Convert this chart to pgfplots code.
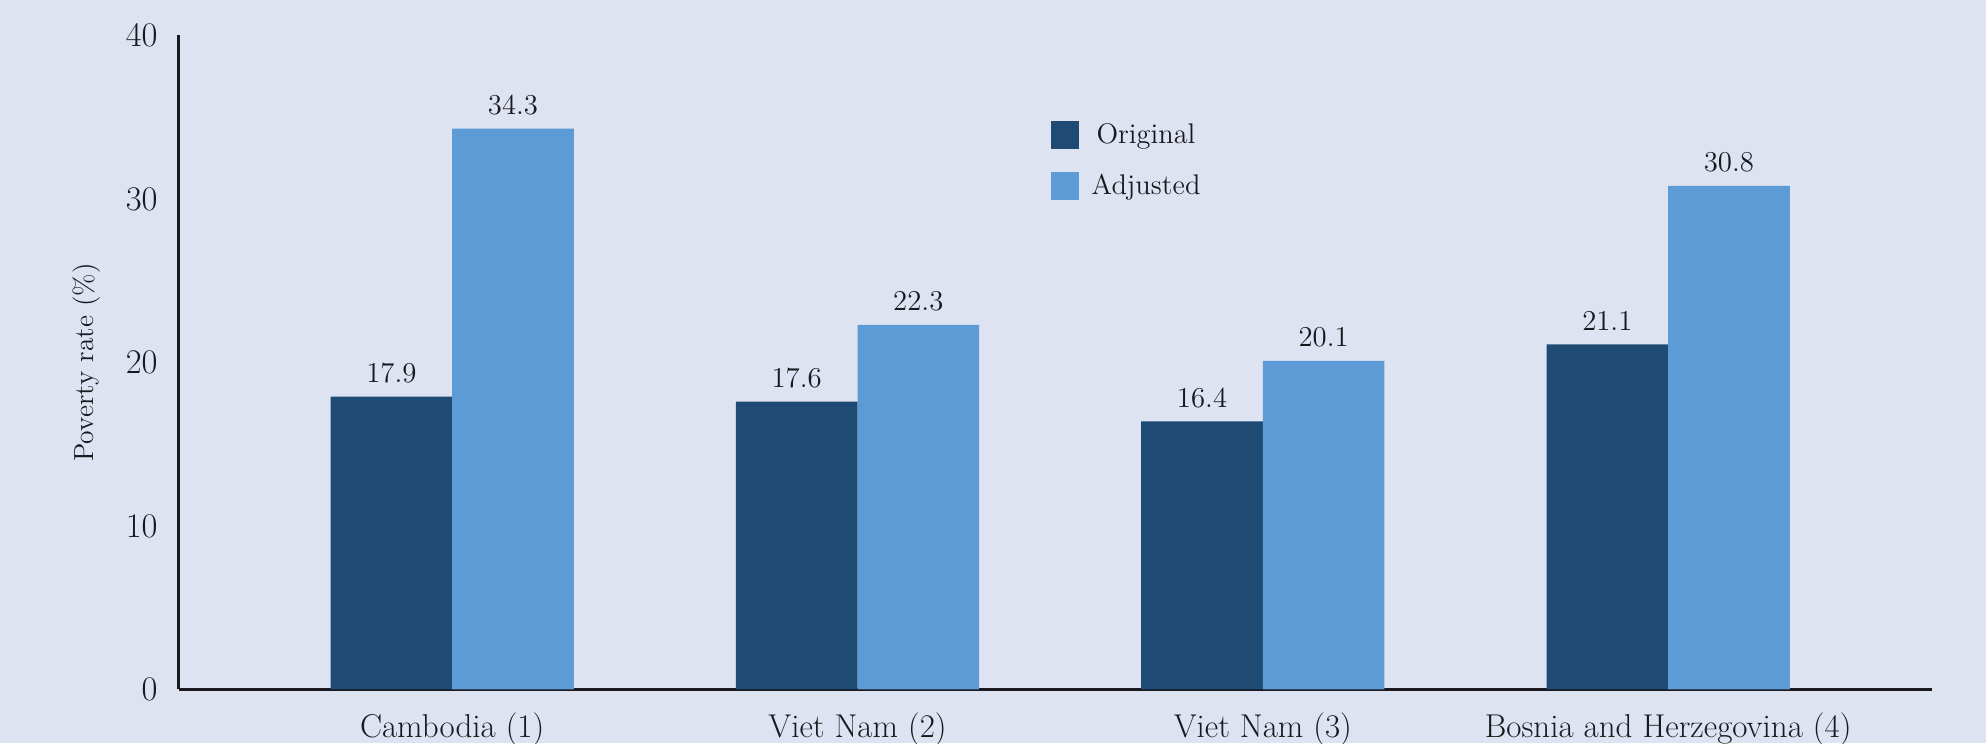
\documentclass[border=0pt]{standalone}
\usepackage{pgfplots}
\pgfplotsset{compat=1.18}
\definecolor{bg}{RGB}{222,227,242}
\definecolor{darkbar}{RGB}{30,74,115}
\definecolor{lightbar}{RGB}{92,155,213}
\definecolor{txt}{RGB}{25,25,30}
\begin{document}
\begin{tikzpicture}
\fill[bg] (-89.3pt,-27pt) rectangle (903.7pt,344.7pt);
\begin{axis}[
  scale only axis, width=876.5pt, height=327pt,
  xmin=-0.675, xmax=3.65, ymin=0, ymax=40,
  axis lines=left,
  axis line style={line width=1.5pt, -, txt},
  xtick={0,1,2,3},
  xticklabels={Cambodia (1), Viet Nam (2), Viet Nam (3), Bosnia and Herzegovina (4)},
  ytick={0,10,20,30,40},
  major tick length=0pt,
  xticklabel style={font=\fontsize{16.5}{19}\selectfont, text=txt, anchor=base, yshift=-24pt},
  yticklabel style={font=\fontsize{18}{21}\selectfont, text=txt, xshift=-7pt},
  ylabel={Poverty rate (\%)},
  ylabel style={font=\fontsize{13.8}{16}\selectfont, text=txt, at={(axis description cs:-0.0525,0.5)}, anchor=center},
  ybar=0pt,
  bar width=0.3,
  nodes near coords,
  every node near coord/.append style={font=\fontsize{15.5}{18}\selectfont, text=txt, yshift=3.5pt},
  legend style={at={(axis cs:1.4775,34.9)}, anchor=north west, draw=none, fill=none,
    font=\fontsize{14.2}{17}\selectfont, text=txt, row sep=10pt, inner sep=0pt},
  legend image code/.code={\fill[#1] (0pt,-7pt) rectangle (14pt,7pt);\path (18pt,0pt);},
]
\addplot[fill=darkbar, draw=none, bar shift=-0.15] coordinates {(0,17.9) (1,17.6) (2,16.4) (3,21.1)};
\addplot[fill=lightbar, draw=none, bar shift=0.15] coordinates {(0,34.3) (1,22.3) (2,20.1) (3,30.8)};
\legend{Original, Adjusted}
\end{axis}
\pgfresetboundingbox
\path (-89.3pt,-27pt) rectangle (903.7pt,344.7pt);
\end{tikzpicture}
\end{document}
